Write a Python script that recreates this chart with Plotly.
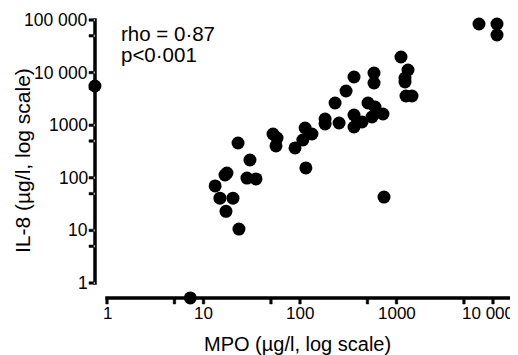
import numpy as np
import plotly.graph_objects as go

# MPO (x, ug/l) and IL-8 (y, ug/l) values
mpo = [7.3, 0.75, 13.2, 14.8, 20.2, 17.1, 23.3, 17.5, 16.7, 28.2, 35, 30.3, 22.8,
       52.5, 57.8, 56.4, 88.8, 113, 133, 107, 115, 182, 182, 254, 231, 300, 363,
       363, 439, 363, 507, 599, 724, 557, 585, 585, 742, 1113, 1316, 1225, 1225,
       1254, 1448, 7160, 11000, 11000]
il8 = [0.52, 5560, 70, 41, 41, 23, 10.6, 123, 113, 99, 95, 218, 459,
       681, 571, 403, 369, 885, 681, 523, 154, 1312, 1055, 1102, 2642, 4467, 8240,
       1563, 1151, 924, 2642, 2218, 1634, 1432, 9820, 6340, 43, 19800, 11200, 7890, 6620,
       3590, 3590, 84000, 84000, 51900]

x_tickvals = [1, 5, 10, 50, 100, 500, 1000, 5000, 10000]
x_ticktext = ["1", "", "10", "", "100", "", "1000", "", "10 000"]
y_tickvals = [1, 5, 10, 50, 100, 500, 1000, 5000, 10000, 50000, 100000]
y_ticktext = ["1", "", "10", "", "100", "", "1000", "", "10 000", "", "100 000"]

FONT = "Liberation Sans, Arial, sans-serif"

# page geometry (the page body adds an 8 px offset to the figure)
OFF = 8
FIG_W, FIG_H = 510, 347
X0PX, XDEC = 107.0, 96.5      # page x of MPO = 1, px per decade
Y0PX, YDEC = 283.0, 52.6      # page y of IL-8 = 1, px per decade
PAGE_W = OFF + FIG_W


def lx(px):   # page x -> log10 x
    return (px - X0PX) / XDEC


def ly(py):   # page y -> log10 y
    return (Y0PX - py) / YDEC


def px_of(v):
    return X0PX + XDEC * np.log10(v)


def py_of(v):
    return Y0PX - YDEC * np.log10(v)


xr = [lx(OFF), lx(OFF + FIG_W)]
yr = [ly(OFF + FIG_H), ly(OFF)]

YAX_PX = 95.0     # page x of the y axis line
XAX_PY = 298.0    # page y of the x axis line
XAX_END = 511.0

fig = go.Figure()

# axis lines and tick marks as thin filled rectangles
rx, ry = [], []


def rect(xa, xb, ya, yb):
    for (a, b) in [(xa, ya), (xb, ya), (xb, yb), (xa, yb), (xa, ya)]:
        rx.append(10 ** lx(a))
        ry.append(10 ** ly(b))
    rx.append(None)
    ry.append(None)


rect(YAX_PX - 1.5, YAX_PX + 1.5, py_of(1) + 1.5, py_of(100000) - 1.5)
rect(px_of(1) - 1.5, XAX_END, XAX_PY - 1.5, XAX_PY + 1.5)
for v in x_tickvals:
    p = px_of(v)
    rect(p - 1.25, p + 1.25, XAX_PY, XAX_PY + 6)
for v in y_tickvals:
    p = py_of(v)
    rect(YAX_PX - 6, YAX_PX, p - 1.25, p + 1.25)

fig.add_trace(go.Scatter(x=rx, y=ry, mode="lines", fill="toself", fillcolor="black",
                         line=dict(color="black", width=0.5), hoverinfo="skip",
                         showlegend=False, cliponaxis=False))

fig.add_trace(go.Scatter(
    x=mpo, y=il8, mode="markers",
    marker=dict(size=13, color="black", line=dict(width=0)),
    cliponaxis=False, showlegend=False,
))

# tick labels
XT_SIZE = 17
for v, t in zip(x_tickvals, x_ticktext):
    if t:
        half = 0.556 * XT_SIZE * len(t) / 2
        if px_of(v) + half > PAGE_W - 2:
            fig.add_annotation(xref="x", yref="y", x=lx(PAGE_W - 2), y=ly(313), text=t,
                               xanchor="right", yanchor="middle", showarrow=False,
                               font=dict(family=FONT, size=XT_SIZE, color="black"))
        else:
            fig.add_annotation(xref="x", yref="y", x=np.log10(v), y=ly(313), text=t,
                               xanchor="center", yanchor="middle", showarrow=False,
                               font=dict(family=FONT, size=XT_SIZE, color="black"))
for v, t in zip(y_tickvals, y_ticktext):
    if t:
        fig.add_annotation(xref="x", yref="y", x=lx(90), y=np.log10(v), text=t,
                           xanchor="right", yanchor="middle", showarrow=False,
                           font=dict(family=FONT, size=17.5, color="black"))


def pfx(px):
    return (px - OFF) / FIG_W


def pfy(py):
    return 1 - (py - OFF) / FIG_H


fig.add_annotation(xref="paper", yref="paper", x=pfx(119), y=pfy(34), xanchor="left", yanchor="middle",
                   text="rho = 0·87", showarrow=False, align="left",
                   font=dict(family=FONT, size=20.5, color="black"))
fig.add_annotation(xref="paper", yref="paper", x=pfx(119), y=pfy(55), xanchor="left", yanchor="middle",
                   text="p<0·001", showarrow=False, align="left",
                   font=dict(family=FONT, size=20.5, color="black"))
fig.add_annotation(xref="paper", yref="paper", x=pfx(297), y=pfy(344), xanchor="center", yanchor="middle",
                   text="MPO (µg/l, log scale)", showarrow=False,
                   font=dict(family=FONT, size=20, color="black"))
fig.add_annotation(xref="paper", yref="paper", x=pfx(22), y=pfy(161), xanchor="center", yanchor="middle",
                   text="IL-8 (µg/l, log scale)", showarrow=False, textangle=-90,
                   font=dict(family=FONT, size=21, color="black"))

fig.update_xaxes(type="log", range=xr, visible=False, showgrid=False, zeroline=False)
fig.update_yaxes(type="log", range=yr, visible=False, showgrid=False, zeroline=False)

fig.update_layout(width=FIG_W, height=FIG_H, margin=dict(l=0, r=0, t=0, b=0, autoexpand=False),
                  plot_bgcolor="white", paper_bgcolor="white",
                  font=dict(family=FONT, color="black"))

fig.write_html("out.html")
